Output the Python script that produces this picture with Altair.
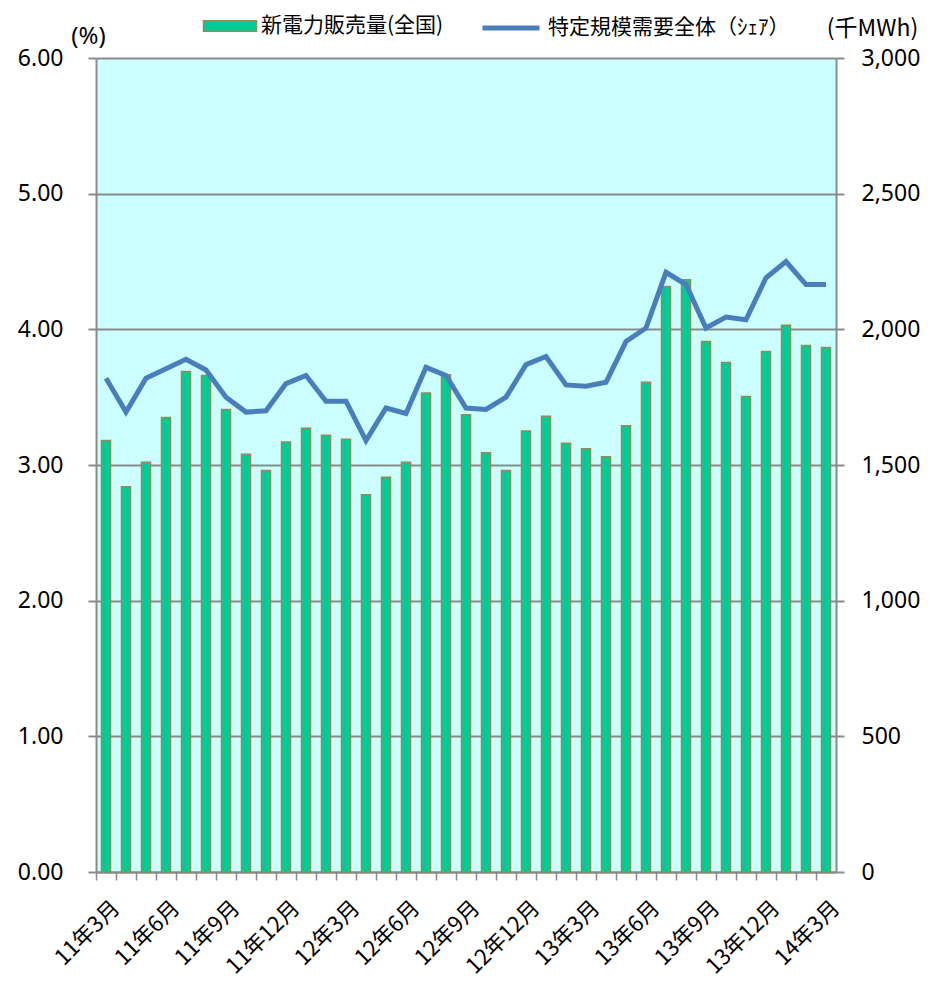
import altair as alt
import pandas as pd

months = []
for y, m in [(11, m) for m in range(3, 13)] + [(12, m) for m in range(1, 13)] + [(13, m) for m in range(1, 13)] + [(14, m) for m in range(1, 4)]:
    months.append(f"{y}年{m}月")

sales = [1590, 1420, 1510, 1675, 1845, 1830, 1705, 1540, 1480, 1585, 1635, 1610,
         1595, 1390, 1455, 1510, 1765, 1833, 1685, 1545, 1480, 1625, 1680, 1580,
         1560, 1530, 1645, 1805, 2158, 2183, 1955, 1878, 1752, 1918, 2015, 1940, 1933]

share = [3.64, 3.39, 3.64, 3.71, 3.78, 3.70, 3.50, 3.39, 3.40, 3.60, 3.66, 3.47,
         3.47, 3.18, 3.42, 3.38, 3.72, 3.66, 3.42, 3.41, 3.50, 3.74, 3.80, 3.59,
         3.58, 3.61, 3.91, 4.01, 4.42, 4.33, 4.01, 4.09, 4.07, 4.38, 4.50, 4.33, 4.33]

bar_name = "新電力販売量(全国)"
line_name = "特定規模需要全体（ｼｪｱ）"

df = pd.DataFrame({
    "month": months,
    "sales": sales,
    "share": share,
    "bar_s": [bar_name] * len(months),
    "line_s": [line_name] * len(months),
})

NUM_FONT = "Noto Sans"
JP_FONT = "Noto Sans CJK JP"
GREY = "#8a8a8a"

x_enc = alt.X(
    "month:N", sort=None,
    scale=alt.Scale(paddingInner=0, paddingOuter=0),
    axis=alt.Axis(
        title=None, bandPosition=0, labelOffset=10, labelAngle=-45,
        labelAlign="right", labelBaseline="middle", labelPadding=24,
        tickSize=8, tickColor=GREY, tickWidth=1.5,
        domainColor=GREY, domainWidth=2, grid=False,
        labelFont=JP_FONT, labelFontSize=22, labelColor="black",
        labelOverlap=False, labelLimit=400,
        labelExpr="test(/年(3|6|9|12)月$/, datum.value) ? datum.value : ''",
    ),
)

base = alt.Chart(df)

bars = base.mark_bar(
    width=alt.RelativeBandSize(0.45), stroke="#948A54", strokeWidth=1.5
).encode(
    x=x_enc,
    y=alt.Y(
        "sales:Q",
        scale=alt.Scale(domain=[0, 3000], nice=False),
        axis=alt.Axis(
            orient="right", values=[0, 500, 1000, 1500, 2000, 2500, 3000],
            format=",d", grid=False, tickSize=8, tickColor=GREY, tickWidth=2,
            domainColor=GREY, domainWidth=2, labelPadding=17,
            labelFont=NUM_FONT, labelFontSize=23, labelColor="black",
            title="(千MWh)", titleAngle=0, titleX=36, titleY=-30,
            titleAlign="center", titleBaseline="middle",
            titleFont=JP_FONT, titleFontSize=23, titleFontWeight="normal",
            titleColor="black",
        ),
    ),
    fill=alt.Fill(
        "bar_s:N",
        scale=alt.Scale(range=["#00CC99"]),
        legend=alt.Legend(
            title=None, orient="none", legendX=120, legendY=-46,
            symbolType="M-2,-0.4H2V0.4H-2Z", symbolSize=702,
            symbolStrokeColor="#948A54", symbolStrokeWidth=1.5,
            labelFont=JP_FONT, labelFontSize=21, labelColor="black",
            labelOffset=17, padding=0, labelLimit=500,
        ),
    ),
)

line = base.mark_line(strokeWidth=5).encode(
    x=x_enc,
    y=alt.Y(
        "share:Q",
        scale=alt.Scale(domain=[0, 6], nice=False),
        axis=alt.Axis(
            orient="left", values=[0, 1, 2, 3, 4, 5, 6], format=".2f",
            grid=True, gridColor=GREY, gridWidth=2,
            tickSize=8, tickColor=GREY, tickWidth=2,
            domainColor=GREY, domainWidth=2, labelPadding=25,
            labelFont=NUM_FONT, labelFontSize=23, labelColor="black",
            title="(%)", titleAngle=0, titleX=-8, titleY=-22,
            titleAlign="center", titleBaseline="middle",
            titleFont=NUM_FONT, titleFontSize=24, titleFontWeight="normal",
            titleColor="black",
        ),
    ),
    stroke=alt.Stroke(
        "line_s:N",
        scale=alt.Scale(range=["#4A7EBB"]),
        legend=alt.Legend(
            title=None, orient="none", legendX=398, legendY=-47,
            symbolType="M-2,0H2", symbolSize=812, symbolStrokeWidth=5,
            labelFont=JP_FONT, labelFontSize=21, labelColor="black",
            labelOffset=20, padding=0, labelLimit=500,
        ),
    ),
)

chart = alt.layer(bars, line).resolve_scale(
    y="independent", fill="independent", stroke="independent"
).properties(
    width=740, height=814,
    autosize=alt.AutoSizeParams(type="none"),
    padding={"left": 88, "top": 50, "right": 92, "bottom": 106},
).configure_view(
    fill="#CCFFFF", stroke="transparent"
)

chart.save("out.html", embed_options={"renderer": "svg", "actions": False})
